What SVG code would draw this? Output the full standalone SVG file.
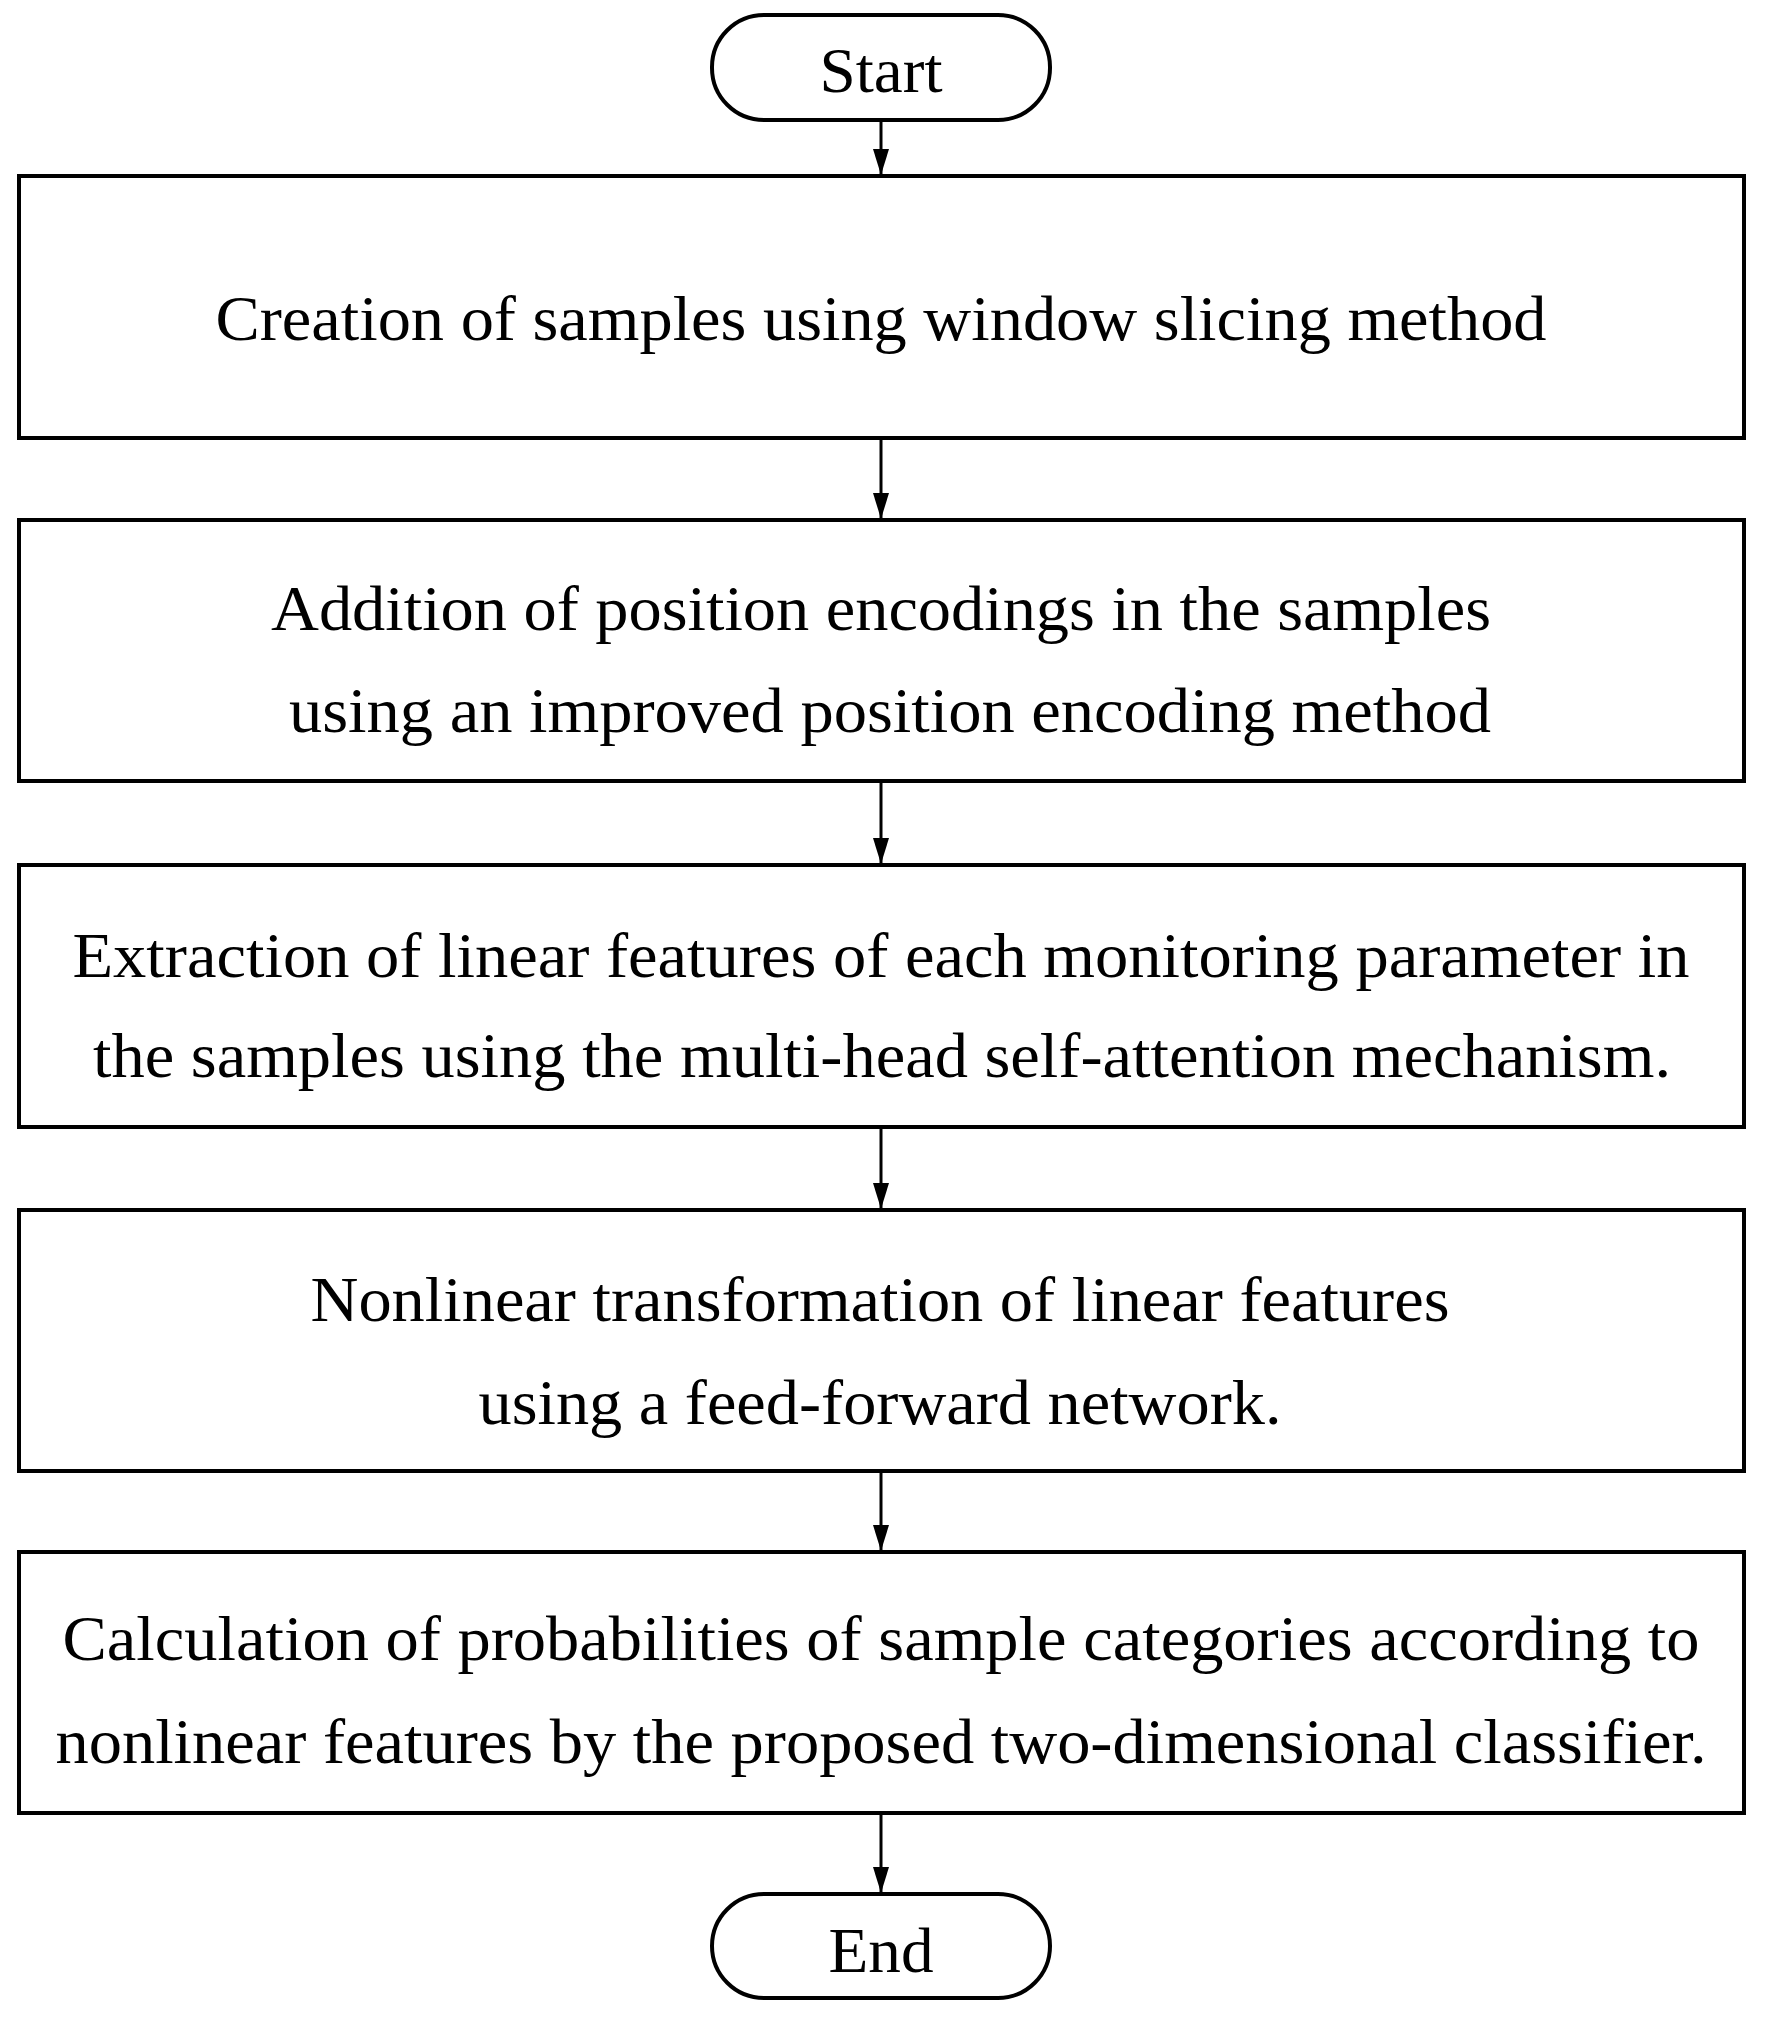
<svg xmlns="http://www.w3.org/2000/svg" width="1773" height="2022" viewBox="0 0 1773 2022">
<style>
.b{fill:#fff;stroke:#000;stroke-width:4}
.t{font-family:"Liberation Serif","Times New Roman",serif;font-size:64px;fill:#000;text-anchor:middle}
.c{stroke:#000;stroke-width:3;fill:none;marker-end:url(#a)}
</style>
<defs><marker id="a" markerWidth="26" markerHeight="16" refX="25" refY="8" orient="auto" markerUnits="userSpaceOnUse"><path d="M0,0 L26,8 L0,16 Z" fill="#000"/></marker></defs>
<rect width="1773" height="2022" fill="#fff"/>
<g id="connectors">
<line class="c" x1="881" y1="121" x2="881" y2="174"/>
<line class="c" x1="881" y1="440" x2="881" y2="518"/>
<line class="c" x1="881" y1="783" x2="881" y2="863"/>
<line class="c" x1="881" y1="1129" x2="881" y2="1208"/>
<line class="c" x1="881" y1="1473" x2="881" y2="1550"/>
<line class="c" x1="881" y1="1815" x2="881" y2="1892"/>
</g>
<g id="start"><rect class="b" x="712" y="15" width="338" height="105" rx="52"/><text class="t" x="881" y="92" textLength="123" lengthAdjust="spacingAndGlyphs">Start</text></g>
<g id="n1"><rect class="b" x="19" y="176" width="1725" height="262"/><text class="t" x="881" y="340" textLength="1331" lengthAdjust="spacingAndGlyphs">Creation of samples using window slicing method</text></g>
<g id="n2"><rect class="b" x="19" y="520" width="1725" height="261"/><text class="t" x="881" y="630" textLength="1220" lengthAdjust="spacingAndGlyphs">Addition of position encodings in the samples</text><text class="t" x="890" y="732" textLength="1202" lengthAdjust="spacingAndGlyphs">using an improved position encoding method</text></g>
<g id="n3"><rect class="b" x="19" y="865" width="1725" height="262"/><text class="t" x="881" y="977" textLength="1617" lengthAdjust="spacingAndGlyphs">Extraction of linear features of each monitoring parameter in</text><text class="t" x="882" y="1077" textLength="1578" lengthAdjust="spacingAndGlyphs">the samples using the multi-head self-attention mechanism.</text></g>
<g id="n4"><rect class="b" x="19" y="1210" width="1725" height="261"/><text class="t" x="880" y="1321" textLength="1139" lengthAdjust="spacingAndGlyphs">Nonlinear transformation of linear features</text><text class="t" x="880" y="1424" textLength="803" lengthAdjust="spacingAndGlyphs">using a feed-forward network.</text></g>
<g id="n5"><rect class="b" x="19" y="1552" width="1725" height="261"/><text class="t" x="881" y="1660" textLength="1637" lengthAdjust="spacingAndGlyphs">Calculation of probabilities of sample categories according to</text><text class="t" x="881" y="1763" textLength="1651" lengthAdjust="spacingAndGlyphs">nonlinear features by the proposed two-dimensional classifier.</text></g>
<g id="end"><rect class="b" x="712" y="1894" width="338" height="104" rx="52"/><text class="t" x="881" y="1972" textLength="105" lengthAdjust="spacingAndGlyphs">End</text></g>
</svg>
